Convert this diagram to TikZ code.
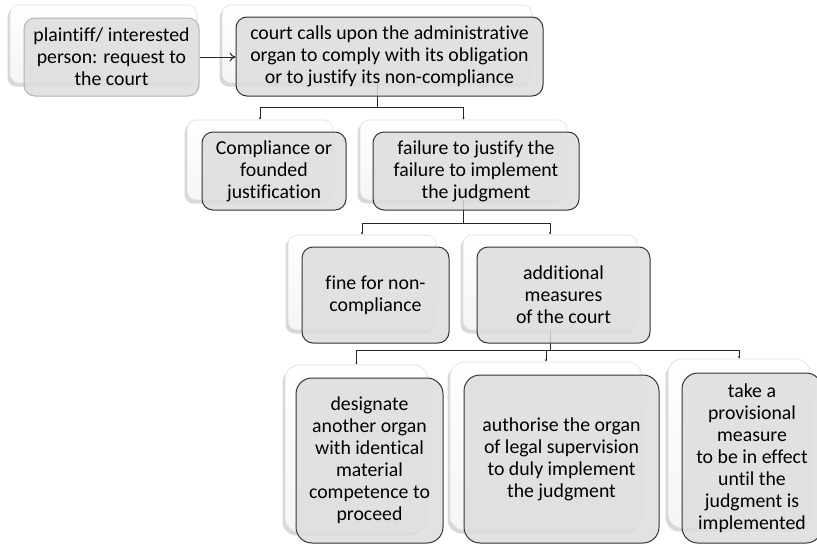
\documentclass[tikz,border=0pt]{standalone}
\usepackage{fontspec}
\setmainfont{Carlito}[Ligatures=NoCommon]
\usetikzlibrary{arrows.meta,shadows}

\tikzset{
  backbox/.style={rounded corners=9pt, top color=white, bottom color=gray!8, draw=gray!25, line width=0.6pt,
    drop shadow={shadow xshift=-2.5pt, shadow yshift=-3.5pt, fill=gray!60, opacity=0.5}},
  frontbox/.style={rounded corners=11pt, fill=gray!27, fill opacity=0.85, text opacity=1,
    draw=black!80, line width=1pt, align=center, inner sep=2pt,
    font=\fontsize{19.8}{22}\selectfont},
  link/.style={draw=black!85, line width=0.8pt, -{Latex[length=2.2pt,width=2.2pt]}},
  arrowlink/.style={draw=black!85, line width=1pt, -{To[length=6pt,width=9pt]}}
}

\begin{document}
\begin{tikzpicture}[x=1pt, y=-1pt]
  \useasboundingbox[fill=white] (0,0) rectangle (817,544);

  % back layer
  \node[backbox, minimum width=187pt, minimum height=78pt] (plaintiffBack) at (103.5,44) {};
  \node[backbox, minimum width=310pt, minimum height=78pt] (courtBack) at (377,44) {};
  \node[backbox, minimum width=146pt, minimum height=80pt] (complianceBack) at (260,160) {};
  \node[backbox, minimum width=207pt, minimum height=80pt] (failureBack) at (463.5,160) {};
  \node[backbox, minimum width=148pt, minimum height=95pt] (fineBack) at (362,282.5) {};
  \node[backbox, minimum width=174pt, minimum height=95pt] (measuresBack) at (550,282.5) {};
  \node[backbox, rounded corners=14pt, minimum width=143pt, minimum height=167pt] (designateBack) at (356.5,448.5) {};
  \node[backbox, rounded corners=14pt, minimum width=192pt, minimum height=168pt] (authoriseBack) at (546,446) {};
  \node[backbox, rounded corners=14pt, minimum width=142pt, minimum height=169pt] (provisionalBack) at (739,443.5) {};

  % connectors
  \draw[link] (courtBack.south) -- ++(0,24) coordinate (forkA) -| (complianceBack.north);
  \draw[link] (forkA) -| (failureBack.north);
  \draw[link] (failureBack.south) -- ++(0,23) coordinate (forkB) -| (fineBack.north);
  \draw[link] (forkB) -| (measuresBack.north);
  \draw[link] (measuresBack.south) -- ++(0,20) coordinate (forkC) -| (designateBack.north);
  \draw[link] (forkC) -| (authoriseBack.north);
  \draw[link] (forkC) -| (provisionalBack.north);

  % front layer
  \node[frontbox, draw=gray!60, minimum width=175pt, minimum height=78pt] (plaintiff) at (111.5,57)
    {plaintiff/ interested\\person: request to\\the court};
  \node[frontbox, minimum width=307pt, minimum height=79pt] (court) at (389.5,56.5)
    {court calls upon the administrative\\organ to comply with its obligation\\or to justify its non-compliance};
  \node[frontbox, minimum width=144pt, minimum height=78pt] (compliance) at (274,171)
    {Compliance or\\founded\\justification};
  \node[frontbox, minimum width=206pt, minimum height=78pt] (failure) at (476,171)
    {failure to justify the\\failure to implement\\the judgment};
  \node[frontbox, minimum width=147pt, minimum height=96pt] (fine) at (375.5,295)
    {fine for non-\\compliance};
  \node[frontbox, minimum width=173pt, minimum height=96pt] (measures) at (563.5,295)
    {additional\\measures\\of the court};
  \node[frontbox, rounded corners=16pt, minimum width=147pt, minimum height=165pt] (designate) at (369.5,460.5)
    {designate\\another organ\\with identical\\material\\competence to\\proceed};
  \node[frontbox, rounded corners=16pt, minimum width=195pt, minimum height=168pt] (authorise) at (561.5,459)
    {authorise the organ\\of legal supervision\\to duly implement\\the judgment};
  \node[frontbox, rounded corners=16pt, minimum width=140pt, minimum height=170pt] (provisional) at (752,458)
    {take a\\provisional\\measure\\to be in effect\\until the\\judgment is\\implemented};

  \draw[arrowlink] (plaintiff.east) -- (plaintiff.east -| court.west);
\end{tikzpicture}
\end{document}
